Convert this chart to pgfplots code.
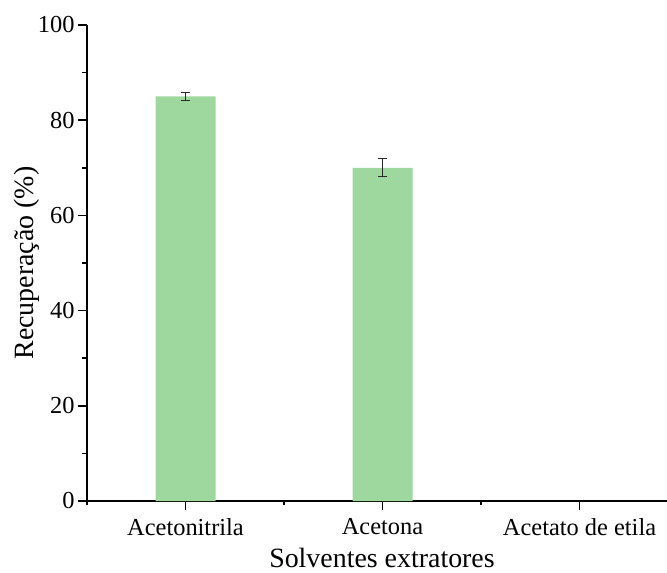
\documentclass[border=0pt]{standalone}
\usepackage{pgfplots}
\pgfplotsset{compat=1.18}
\usepackage{fontspec}
\setmainfont{Liberation Serif}
\definecolor{barg}{RGB}{158,216,158}
\definecolor{errc}{RGB}{40,40,40}
\begin{document}
\begin{tikzpicture}
\begin{axis}[
  at={(0,0)}, anchor=south west,
  scale only axis,
  width=580bp, height=476bp,
  xmin=-0.5, xmax=2.444,
  ymin=0, ymax=100,
  axis x line*=bottom, axis y line*=left,
  axis line style={line width=1.5bp},
  tick style={line width=1.5bp, black},
  tick align=outside,
  major tick length=9bp, minor tick length=4.5bp,
  xtick={0,1,2},
  xticklabels={Acetonitrila,Acetona,Acetato de etila},
  minor xtick={-0.5,0.5,1.5},
  ytick={0,20,40,60,80,100},
  minor ytick={10,30,50,70,90},
  /pgf/number format/assume math mode=true,
  ticklabel style={font=\fontsize{24.5}{28}\selectfont},
  xticklabel style={yshift=-5bp},
  label style={font=\fontsize{28}{32}\selectfont},
  xlabel={Solventes extratores},
  ylabel={Recuperação (\%)},
  xlabel style={at={(axis description cs:0.5086,-0.139)}, anchor=base, inner sep=0pt},
  ylabel style={at={(axis description cs:-0.0931,0.5)}, anchor=base},
  clip=false,
]
\addplot[ybar, bar width=60bp, fill=barg, draw=none,
  error bars/.cd, y dir=both, y explicit,
  error bar style={line width=1bp, errc},
  error mark options={rotate=90, mark size=4.5bp, line width=1bp, errc}]
  coordinates {(0,85) +- (0,0.9) (1,70) +- (0,1.9)};
\end{axis}
\pgfresetboundingbox
\useasboundingbox (-87bp,-72bp) rectangle (580bp,501bp);
\end{tikzpicture}
\end{document}
